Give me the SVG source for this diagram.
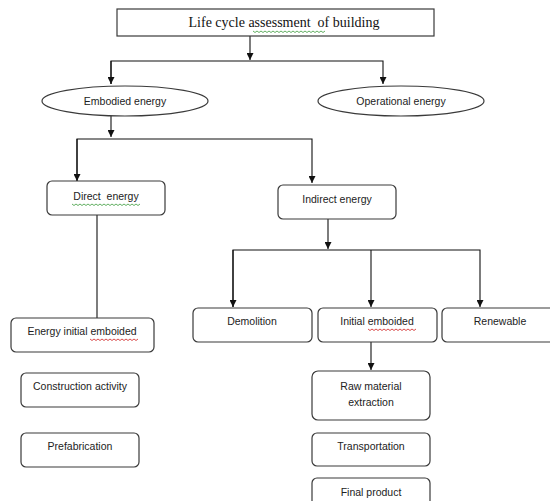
<svg xmlns="http://www.w3.org/2000/svg" width="550" height="501" viewBox="0 0 550 501">
<style>
.bx{fill:#fff;stroke:#3a3a3a;stroke-width:1.2}
.el{fill:#fff;stroke:#3a3a3a;stroke-width:1.2}
.t{font-family:"Liberation Sans",Arial,sans-serif;font-size:10.5px;fill:#222;text-anchor:middle}
.ts{font-family:"Liberation Serif","Times New Roman",serif;font-size:14px;fill:#111;text-anchor:middle}
.ln{fill:none;stroke:#111;stroke-width:1.1}
.sqg{fill:none;stroke:#3a9a3a;stroke-width:0.8}
.sqr{fill:none;stroke:#d02020;stroke-width:0.8}
</style>
<defs>
<marker id="ah" viewBox="0 0 8 8" refX="8" refY="4" markerWidth="7" markerHeight="7" markerUnits="userSpaceOnUse" orient="auto">
<path d="M0,0 L8,4 L0,8 z" fill="#111"/>
</marker>
</defs>
<rect width="550" height="501" fill="#fff"/>
<g id="connectors">
<path class="ln" d="M250,36 V60" marker-end="url(#ah)"/>
<path class="ln" d="M111,84 V61 H383 V84" marker-end="url(#ah)"/>
<path class="ln" d="M111,61 V84" marker-end="url(#ah)"/>
<path class="ln" d="M111,115 V137" marker-end="url(#ah)"/>
<path class="ln" d="M77,181 V139 H312 V183" marker-end="url(#ah)"/>
<path class="ln" d="M77,139 V181" marker-end="url(#ah)"/>
<path class="ln" d="M328,219 V249" marker-end="url(#ah)"/>
<path class="ln" d="M233,307 V250 H480 V307" marker-end="url(#ah)"/>
<path class="ln" d="M233,250 V307" marker-end="url(#ah)"/>
<path class="ln" d="M371,250 V307" marker-end="url(#ah)"/>
<path class="ln" d="M97,215 V318"/>
<path class="ln" d="M371,342 V370" marker-end="url(#ah)"/>
</g>
<g id="lca">
<rect class="bx" x="117" y="9" width="317" height="27"/>
<text class="ts" x="284" y="27" xml:space="preserve">Life cycle assessment  of building</text>
<path class="sqg" d="M253,31 l2,1.5 2,-1.5 2,1.5 2,-1.5 2,1.5 2,-1.5 2,1.5 2,-1.5 2,1.5 2,-1.5 2,1.5 2,-1.5 2,1.5 2,-1.5 2,1.5 2,-1.5 2,1.5 2,-1.5 2,1.5 2,-1.5 2,1.5 2,-1.5 2,1.5 2,-1.5 2,1.5 2,-1.5 2,1.5 2,-1.5 2,1.5 2,-1.5 2,1.5 2,-1.5 2,1.5 2,-1.5 2,1.5 2,-1.5"/>
</g>
<g id="embodied">
<ellipse class="el" cx="125" cy="101" rx="83" ry="15"/>
<text class="t" x="125" y="105">Embodied energy</text>
</g>
<g id="operational">
<ellipse class="el" cx="401" cy="101" rx="83" ry="15"/>
<text class="t" x="401" y="105">Operational energy</text>
</g>
<g id="direct">
<rect class="bx" x="47" y="181" width="118" height="34" rx="5"/>
<text class="t" x="106" y="200" xml:space="preserve">Direct  energy</text>
<path class="sqg" d="M72,204 l2,1.5 2,-1.5 2,1.5 2,-1.5 2,1.5 2,-1.5 2,1.5 2,-1.5 2,1.5 2,-1.5 2,1.5 2,-1.5 2,1.5 2,-1.5 2,1.5 2,-1.5 2,1.5 2,-1.5 2,1.5 2,-1.5 2,1.5 2,-1.5 2,1.5 2,-1.5 2,1.5 2,-1.5 2,1.5 2,-1.5 2,1.5 2,-1.5 2,1.5 2,-1.5 2,1.5 2,-1.5"/>
</g>
<g id="indirect">
<rect class="bx" x="278" y="185" width="118" height="34" rx="5"/>
<text class="t" x="337" y="203">Indirect energy</text>
</g>
<g id="energy-initial">
<rect class="bx" x="11" y="318" width="143" height="34" rx="5"/>
<text class="t" x="82" y="335">Energy initial emboided</text>
<path class="sqr" d="M90,339 l2,1.5 2,-1.5 2,1.5 2,-1.5 2,1.5 2,-1.5 2,1.5 2,-1.5 2,1.5 2,-1.5 2,1.5 2,-1.5 2,1.5 2,-1.5 2,1.5 2,-1.5 2,1.5 2,-1.5 2,1.5 2,-1.5 2,1.5 2,-1.5 2,1.5 2,-1.5"/>
</g>
<g id="construction">
<rect class="bx" x="21" y="373" width="118" height="34" rx="5"/>
<text class="t" x="80" y="390">Construction activity</text>
</g>
<g id="prefabrication">
<rect class="bx" x="21" y="433" width="118" height="34" rx="5"/>
<text class="t" x="80" y="450">Prefabrication</text>
</g>
<g id="demolition">
<rect class="bx" x="193" y="308" width="119" height="34" rx="5"/>
<text class="t" x="252" y="325">Demolition</text>
</g>
<g id="initial-emboided">
<rect class="bx" x="318" y="308" width="119" height="34" rx="5"/>
<text class="t" x="377" y="325">Initial emboided</text>
<path class="sqr" d="M368,329 l2,1.5 2,-1.5 2,1.5 2,-1.5 2,1.5 2,-1.5 2,1.5 2,-1.5 2,1.5 2,-1.5 2,1.5 2,-1.5 2,1.5 2,-1.5 2,1.5 2,-1.5 2,1.5 2,-1.5 2,1.5 2,-1.5 2,1.5 2,-1.5 2,1.5 2,-1.5"/>
</g>
<g id="renewable">
<rect class="bx" x="442" y="308" width="119" height="34" rx="5"/>
<text class="t" x="500" y="325">Renewable</text>
</g>
<g id="raw-material">
<rect class="bx" x="312" y="371" width="118" height="49" rx="6"/>
<text class="t" x="371" y="390">Raw material</text>
<text class="t" x="371" y="406">extraction</text>
</g>
<g id="transportation">
<rect class="bx" x="312" y="433" width="118" height="33" rx="5"/>
<text class="t" x="371" y="450">Transportation</text>
</g>
<g id="final-product">
<rect class="bx" x="312" y="478" width="118" height="40" rx="5"/>
<text class="t" x="371" y="496">Final product</text>
</g>
</svg>
